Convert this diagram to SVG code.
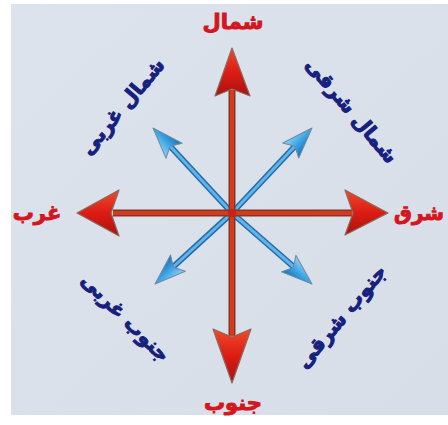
<svg xmlns="http://www.w3.org/2000/svg" width="448" height="425" viewBox="0 0 448 425">
<defs>
<linearGradient id="bg" x1="0" y1="0" x2="1" y2="1">
<stop offset="0" stop-color="#dde3ec"/>
<stop offset="1" stop-color="#d8dee7"/>
</linearGradient>
<linearGradient id="redHead" x1="0" y1="0" x2="0" y2="1">
<stop offset="0" stop-color="#f04a2a"/>
<stop offset="0.5" stop-color="#dc1c14"/>
<stop offset="1" stop-color="#a8120e"/>
</linearGradient>
<linearGradient id="blueHead" x1="0" y1="0" x2="0" y2="1">
<stop offset="0" stop-color="#8fd3f7"/>
<stop offset="0.5" stop-color="#3ea6e6"/>
<stop offset="1" stop-color="#1c6fb5"/>
</linearGradient>
</defs>
<style>
.lblR{font-family:"DejaVu Sans",sans-serif;font-weight:bold;font-size:21px;fill:#d4161e;stroke:#d4161e;stroke-width:1;text-anchor:middle;direction:rtl}
.lblB{font-family:"DejaVu Sans",sans-serif;font-weight:bold;font-size:20px;fill:#16207e;stroke:#16207e;stroke-width:1;text-anchor:middle;direction:rtl}
.rOut{stroke:#7e3a26;stroke-width:7;stroke-linecap:butt}
.rIn{stroke:#d8381e;stroke-width:4;stroke-linecap:butt}
.bOut{stroke:#2a6aa6;stroke-width:6;stroke-linecap:butt}
.bIn{stroke:#5cb6ec;stroke-width:3;stroke-linecap:butt}
.rHead{fill:url(#redHead);stroke:#8a6a60;stroke-width:1.2;stroke-linejoin:round}
.bHead{fill:url(#blueHead);stroke:#6f8aa0;stroke-width:1;stroke-linejoin:round}
</style>
<rect x="0" y="0" width="448" height="425" fill="#ffffff"/>
<rect x="11" y="4" width="437" height="411" fill="url(#bg)"/>
<g id="connectors">
<g id="diagonals">
<line class="bOut" x1="232" y1="213" x2="169" y2="145"/>
<line class="bIn" x1="232" y1="213" x2="169" y2="145"/>
<line class="bOut" x1="232" y1="213" x2="296" y2="145"/>
<line class="bIn" x1="232" y1="213" x2="296" y2="145"/>
<line class="bOut" x1="232" y1="213" x2="172" y2="268"/>
<line class="bIn" x1="232" y1="213" x2="172" y2="268"/>
<line class="bOut" x1="232" y1="213" x2="295" y2="268"/>
<line class="bIn" x1="232" y1="213" x2="295" y2="268"/>
<path class="bHead" transform="translate(153,128) rotate(-132.9)" d="M0,0 L-31,-11 L-25,0 L-31,11 Z"/>
<path class="bHead" transform="translate(312,128) rotate(-46.7)" d="M0,0 L-31,-11 L-25,0 L-31,11 Z"/>
<path class="bHead" transform="translate(155,284) rotate(137.7)" d="M0,0 L-31,-11 L-25,0 L-31,11 Z"/>
<path class="bHead" transform="translate(312,284) rotate(41.2)" d="M0,0 L-31,-11 L-25,0 L-31,11 Z"/>
</g>
<g id="cardinals">
<line class="rOut" x1="232" y1="90" x2="232" y2="336"/>
<line class="rIn" x1="232" y1="90" x2="232" y2="336"/>
<line class="rOut" x1="113" y1="213" x2="352" y2="213"/>
<line class="rIn" x1="113" y1="213" x2="352" y2="213"/>
<path class="rHead" d="M232,48 L250,96 L232,89 L215,96 Z"/>
<path class="rHead" d="M232,383 L213,329 L232,337 L251,329 Z"/>
<path class="rHead" d="M77,213 L119,190 L111,213 L119,236 Z"/>
<path class="rHead" d="M388,213 L345,190 L353,213 L345,235 Z"/>
</g>
<circle cx="232" cy="213" r="4" fill="#c8201a"/>
</g>
<g id="north"><text class="lblR" x="233" y="29">شمال</text></g>
<g id="south"><text class="lblR" x="233" y="410">جنوب</text></g>
<g id="west"><text class="lblR" x="37" y="220">غرب</text></g>
<g id="east"><text class="lblR" x="419" y="220" style="font-size:20px">شرق</text></g>
<g id="northwest"><text class="lblB" transform="translate(123,107) rotate(-50)" x="0" y="6">شمال غربی</text></g>
<g id="northeast"><text class="lblB" transform="translate(351,111) rotate(50)" x="0" y="6">شمال شرقی</text></g>
<g id="southwest"><text class="lblB" transform="translate(125,318) rotate(45)" x="0" y="6">جنوب غربی</text></g>
<g id="southeast"><text class="lblB" transform="translate(342,317) rotate(-50)" x="0" y="6">جنوب شرقی</text></g>
</svg>
